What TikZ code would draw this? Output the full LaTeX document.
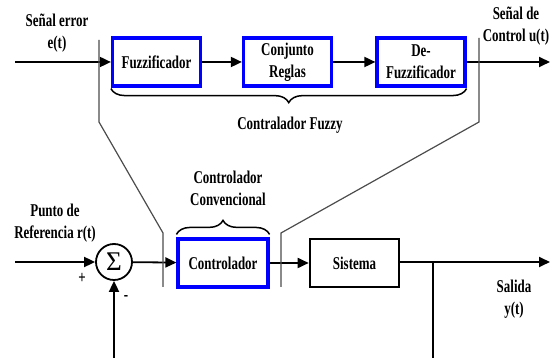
\documentclass[tikz,border=0pt]{standalone}
\usepackage{fontspec}
\setmainfont{Liberation Serif}[FakeStretch=0.72]
\newfontfamily\sumfont{Liberation Serif}
\usetikzlibrary{arrows.meta,decorations.pathreplacing}

\begin{document}
\begin{tikzpicture}[x=1pt,y=1pt,
  every node/.style={font=\fontsize{18}{22}\selectfont\bfseries, align=center},
  fuzzybox/.style={draw=blue, line width=3.2pt, minimum width=88pt, minimum height=48pt, inner sep=0pt},
  plantbox/.style={draw=black, line width=2.6pt, minimum width=89pt, minimum height=48pt, inner sep=0pt},
  signal/.style={-{Triangle[length=11pt,width=10pt]}, line width=1.8pt},
  wire/.style={line width=1.8pt},
  cutline/.style={gray!60!black, line width=1.2pt},
  curly/.style={decorate, decoration={brace, amplitude=14pt}, line width=1.5pt}]
  \useasboundingbox (0,0) rectangle (552,358);
  % bloques del controlador fuzzy
  \node[fuzzybox] (fuzz) at (156.5,296) {Fuzzificador};
  \node[fuzzybox] (reglas) at (287.5,296) {Conjunto\\Reglas};
  \node[fuzzybox] (defuzz) at (421,296) {De-\\Fuzzificador};
  % lazo de control convencional
  \node[draw, circle, line width=1.8pt, minimum size=36pt, inner sep=0pt,
        font=\sumfont\fontsize{27}{27}\selectfont] (suma) at (114,96) {Σ};
  \node[fuzzybox, minimum width=90pt] (ctrl) at (223,95) {Controlador};
  \node[plantbox] (sist) at (354.5,95) {Sistema};
  % extremos libres
  \coordinate (ein) at (15,296);
  \coordinate (uout) at (550,296);
  \coordinate (rin) at (15,96);
  \coordinate (yout) at (550,96);
  \coordinate (fbk) at (114,0);
  \coordinate (rama) at (433,96);
  \coordinate (ramab) at (433,0);
  % conexiones
  \draw[signal] (ein) -- (fuzz);
  \draw[signal] (fuzz) -- (reglas);
  \draw[signal] (reglas) -- (defuzz);
  \draw[signal] (defuzz) -- (uout);
  \draw[signal] (rin) -- (suma);
  \draw[signal] (suma) -- (ctrl);
  \draw[signal] (ctrl) -- (sist);
  \draw[signal] (sist.east |- yout) -- (yout);
  \draw[wire] (rama) -- (ramab);
  \draw[signal] (fbk) -- (suma.south);
  % lineas de la ampliacion
  \draw[cutline] (99,318) -- (99,236) -- (163,125) -- (163,71);
  \draw[cutline] (479,320) -- (479,236) -- (281,125) -- (281,71);
  % llaves
  \draw[curly] (defuzz.south east) ++(0,-1) -- ([yshift=-1pt]fuzz.south west);
  \draw[curly] ([yshift=3pt]ctrl.north west) -- ([yshift=3pt]ctrl.north east);
  % textos
  \node (tfuzzy) at (290,233) {Contralador Fuzzy};
  \node (tconv) at (228,169.5) {Controlador\\Convencional};
  \node (terr) at (57,324.5) {Señal error\\e(t)};
  \node (tu) at (516,332) {Señal de\\Control u(t)};
  \node (tref) at (55,134.5) {Punto de\\Referencia r(t)};
  \node (tsal) at (514,59) {Salida\\y(t)};
  \node (mas) at (82,80) {+};
  \node (menos) at (126,60) {-};
\end{tikzpicture}
\end{document}
